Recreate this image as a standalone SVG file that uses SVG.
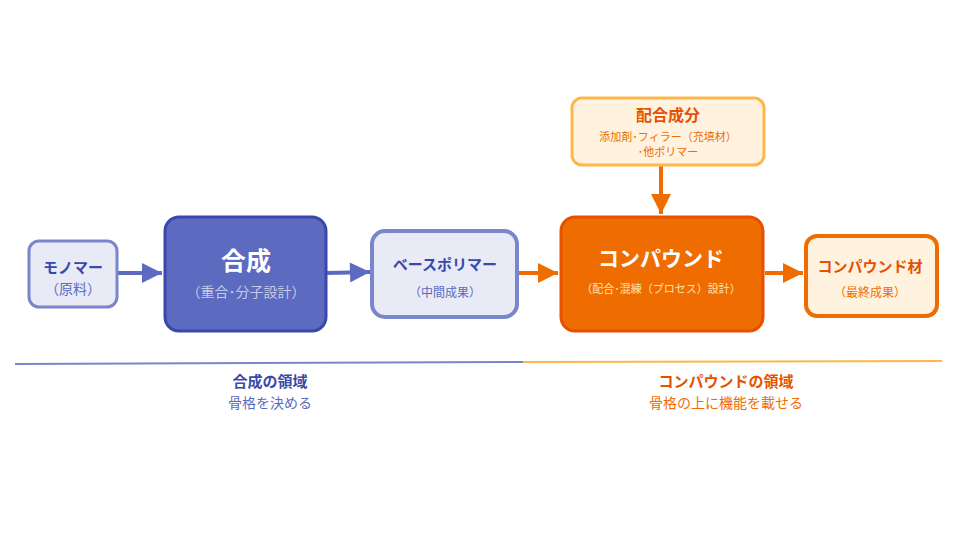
<svg xmlns="http://www.w3.org/2000/svg" width="960" height="540" viewBox="0 0 960 540">
<defs>
<style>
text{font-family:"Noto Sans CJK JP","Noto Sans",sans-serif;text-anchor:middle}
.b{font-weight:bold}
</style>
<marker id="ab" viewBox="0 0 10 10" refX="10" refY="5" markerWidth="24" markerHeight="20" markerUnits="userSpaceOnUse" orient="auto"><path d="M0,0L10,5L0,10z" fill="#5c6bc0"/></marker>
<marker id="ao" viewBox="0 0 10 10" refX="10" refY="5" markerWidth="24" markerHeight="20" markerUnits="userSpaceOnUse" orient="auto"><path d="M0,0L10,5L0,10z" fill="#ef6c00"/></marker>
</defs>
<rect width="960" height="540" fill="#fff"/>
<g id="connectors" stroke-width="4" fill="none">
<line x1="118" y1="273" x2="162" y2="273" stroke="#5c6bc0" marker-end="url(#ab)"/>
<line x1="327" y1="273" x2="370" y2="272" stroke="#5c6bc0" marker-end="url(#ab)"/>
<line x1="517" y1="273" x2="558" y2="273" stroke="#ef6c00" marker-end="url(#ao)"/>
<line x1="765" y1="273" x2="803" y2="273" stroke="#ef6c00" marker-end="url(#ao)"/>
<line x1="661" y1="166" x2="661" y2="214" stroke="#ef6c00" marker-end="url(#ao)"/>
</g>
<g id="monomer"><rect x="29" y="241" width="88" height="66" rx="10" fill="#e8eaf6" stroke="#7986cb" stroke-width="3"/>
<text x="73" y="273" class="b" font-size="15" fill="#3949ab">モノマー</text><text x="73" y="294" font-size="14" fill="#5c6bc0">（原料）</text></g>
<g id="synth"><rect x="165" y="217" width="161" height="114" rx="14" fill="#5c6bc0" stroke="#3949ab" stroke-width="3"/>
<text x="246" y="270" class="b" font-size="25" fill="#fff">合成</text><text x="246" y="297" font-size="14" fill="#c5cae9">（重合･分子設計）</text></g>
<g id="base"><rect x="372" y="231" width="145" height="86" rx="13" fill="#e8eaf6" stroke="#7986cb" stroke-width="4"/>
<text x="445" y="270" class="b" font-size="15" fill="#3949ab">ベースポリマー</text><text x="445" y="297" font-size="12" fill="#5c6bc0">（中間成果）</text></g>
<g id="additives"><rect x="572" y="98" width="192" height="67" rx="10" fill="#fff3e0" stroke="#ffb74d" stroke-width="3"/>
<text x="668" y="121" class="b" font-size="16" fill="#e65100">配合成分</text><text x="668" y="141" font-size="11" fill="#ef6c00">添加剤･フィラー（充填材）</text><text x="668" y="156" font-size="11" fill="#ef6c00">･他ポリマー</text></g>
<g id="compound"><rect x="561" y="217" width="202" height="114" rx="14" fill="#ef6c00" stroke="#e65100" stroke-width="3"/>
<text x="661" y="266" class="b" font-size="21" fill="#fff">コンパウンド</text><text x="661" y="293" font-size="11" fill="#ffe0b2">（配合･混練（プロセス）設計）</text></g>
<g id="material"><rect x="806" y="236" width="131" height="80" rx="11" fill="#fff3e0" stroke="#ef6c00" stroke-width="4"/>
<text x="870" y="272" class="b" font-size="15" fill="#e65100">コンパウンド材</text><text x="870" y="297" font-size="12" fill="#ef6c00">（最終成果）</text></g>
<g id="domains">
<line x1="15" y1="364" x2="523" y2="362" stroke="#7986cb" stroke-width="2"/>
<line x1="523" y1="362" x2="942" y2="361" stroke="#ffb74d" stroke-width="2"/>
<text x="270" y="387" class="b" font-size="15" fill="#3949ab">合成の領域</text><text x="270" y="408" font-size="14" fill="#5c6bc0">骨格を決める</text>
<text x="726" y="387" class="b" font-size="15" fill="#e65100">コンパウンドの領域</text><text x="726" y="408" font-size="14" fill="#ef6c00">骨格の上に機能を載せる</text>
</g>
</svg>
